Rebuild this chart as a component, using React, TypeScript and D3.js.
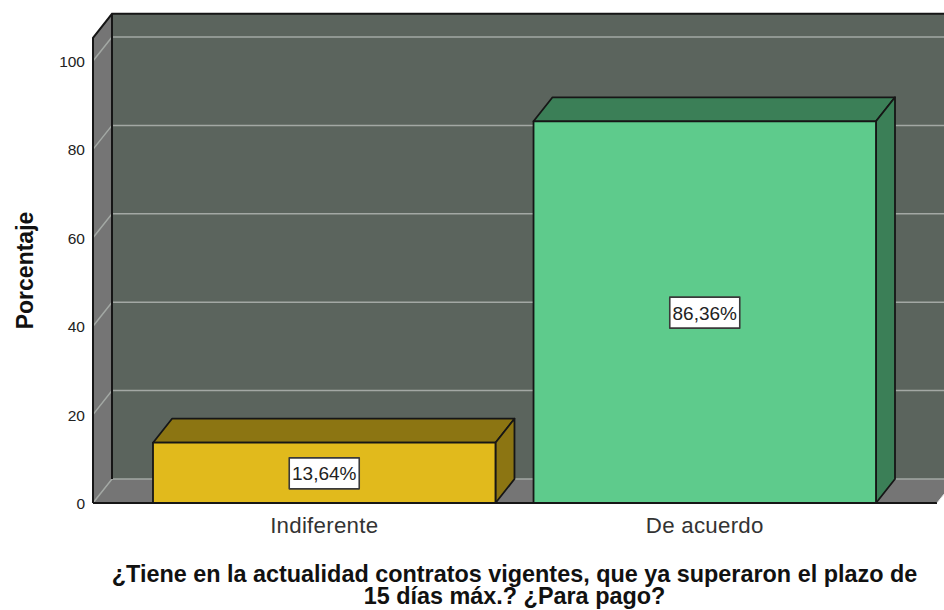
import React from "react";
import * as d3 from "d3";

const categories = ["Indiferente", "De acuerdo"];
const percentages = [13.64, 86.36];
const valueLabels = ["13,64%", "86,36%"];
const ticks = [0, 20, 40, 60, 80, 100];
const titleLines = [
  "¿Tiene en la actualidad contratos vigentes, que ya superaron el plazo de",
  "15 días máx.? ¿Para pago?",
];
const yTitle = "Porcentaje";
const frontColors = ["#e1ba1c", "#5ecb8c"];
const topColors = ["#8c7512", "#3b7f57"];
const sideColors = ["#8c7512", "#3b7f57"];

const W = 944, H = 610;
const DX = 19, DY = 24;
const FONT = "'Liberation Sans', Arial, sans-serif";

export default function App() {
  const y = d3.scaleLinear().domain([0, 100]).range([503, 61]);
  const x = d3.scaleBand<string>().domain(categories).range([153, 876]).paddingInner(0.1).paddingOuter(0);
  const left = 93, right = 937;
  const top = y(105.25);
  const base = y(0);
  const bw = x.bandwidth();
  const stroke = "#161616";
  return (
    <svg width={W} height={H} style={{ position: "absolute", left: 0, top: 0, background: "#fff" }}>
      {/* back wall */}
      <rect x={left + DX} y={top - DY} width={W - left - DX + 10} height={base - top} fill="#5b645d" />
      {/* left wall */}
      <polygon points={`${left},${top} ${left + DX},${top - DY} ${left + DX},${base - DY} ${left},${base}`} fill="#757575" />
      {/* floor */}
      <polygon points={`${left},${base} ${left + DX},${base - DY} ${right + DX},${base - DY} ${right},${base}`} fill="#757575" />
      {/* gridlines */}
      {ticks.map(t => (
        <g key={t} stroke="#a3a8a4" strokeWidth={1.5} fill="none">
          <polyline points={`${left},${y(t)} ${left + DX},${y(t) - DY} ${W + 5},${y(t) - DY}`} />
        </g>
      ))}
      {/* frame */}
      <path d={`M${left},${base} L${left},${top} L${left + DX},${top - DY} L${W + 5},${top - DY} M${left + DX},${top - DY} L${left + DX},${base - DY}`} fill="none" stroke={stroke} strokeWidth={2} />
      <line x1={left} x2={right} y1={base} y2={base} stroke={stroke} strokeWidth={2} />
      <line x1={right} x2={right + DX} y1={base} y2={base - DY} stroke="#e8e8e8" strokeWidth={1} />
      {/* bars */}
      {categories.map((c, i) => {
        const x0 = x(c)!, x1 = x0 + bw, yt = y(percentages[i]);
        const cy = (yt + base) / 2;
        const cx = x0 + bw / 2;
        const tw = 70, th = 31;
        return (
          <g key={c} stroke={stroke} strokeWidth={1.8} strokeLinejoin="round">
            <polygon points={`${x0},${yt} ${x0 + DX},${yt - DY} ${x1 + DX},${yt - DY} ${x1},${yt}`} fill={topColors[i]} />
            <polygon points={`${x1},${yt} ${x1 + DX},${yt - DY} ${x1 + DX},${base - DY} ${x1},${base}`} fill={sideColors[i]} />
            <rect x={x0} y={yt} width={bw} height={base - yt} fill={frontColors[i]} />
            <rect x={cx - tw / 2} y={cy - th / 2 + 0.5} width={tw} height={th} fill="#fff" stroke="#3a3a3a" strokeWidth={1.6} />
            <text x={cx} y={cy + 7.5} textAnchor="middle" fontFamily={FONT} fontSize={19} fill="#222" stroke="none">{valueLabels[i]}</text>
            <text x={cx} y={533} textAnchor="middle" fontFamily={FONT} fontSize={22.3} fill="#333" stroke="none" letterSpacing={0.25}>{c}</text>
          </g>
        );
      })}
      {/* y ticks */}
      {ticks.map(t => (
        <text key={t} x={85} y={y(t) + 6} textAnchor="end" fontFamily={FONT} fontSize={15.5} fill="#222">{t}</text>
      ))}
      <text transform="translate(33,270.5) rotate(-90)" textAnchor="middle" fontFamily={FONT} fontWeight="bold" fontSize={23} fill="#111">{yTitle}</text>
      {titleLines.map((l, i) => (
        <text key={i} x={514.5} y={582 + i * 22} textAnchor="middle" fontFamily={FONT} fontWeight="bold" fontSize={23.4} fill="#111">{l}</text>
      ))}
    </svg>
  );
}
